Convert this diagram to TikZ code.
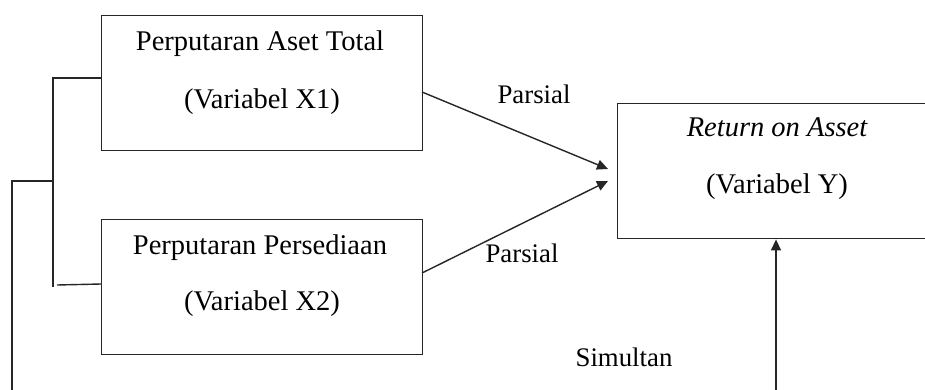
\documentclass[tikz,border=0pt]{standalone}
\usepackage{fontspec}
\setmainfont{Liberation Serif}
\usetikzlibrary{arrows.meta}
\begin{document}
\begin{tikzpicture}[x=1pt,y=-1pt,
  line width=1.4pt, draw=black!85,
  box/.style={draw=black!85, line width=1.4pt, inner sep=0pt, anchor=north west},
  lbl/.style={font=\fontsize{28.5}{34}\selectfont, inner sep=0pt},
  elbl/.style={font=\fontsize{26.8}{32}\selectfont, inner sep=0pt},
  arr/.style={-{Triangle[length=11pt,width=10pt]}}]
\useasboundingbox (0,0) rectangle (925,390);
\fill[white] (0,0) rectangle (925,390);
% boxes
\node[box, minimum width=321pt, minimum height=135pt] (x1) at (101,15) {};
\node[box, minimum width=321pt, minimum height=135pt] (x2) at (101,219) {};
\node[box, minimum width=312pt, minimum height=135pt] (y) at (617,103) {};
% texts
\node[lbl] (t1a) at (260,44) {Perputaran Aset Total};
\node[lbl] (t1b) at (262,102) {(Variabel X1)};
\node[lbl] (t2a) at (260,248) {Perputaran Persediaan};
\node[lbl] (t2b) at (262,304) {(Variabel X2)};
\node[lbl] (tya) at (777,127) {\itshape Return on Asset};
\node[lbl] (tyb) at (777,187) {(Variabel Y)};
\node[elbl] (p1) at (534,94) {Parsial};
\node[elbl] (p2) at (522,253) {Parsial};
\node[elbl] (sim) at (624,357) {Simultan};
% connector coordinates
\coordinate (a1s) at (422,92);
\coordinate (a1e) at (608,169);
\coordinate (a2s) at (422,273);
\coordinate (a2e) at (608,181);
\coordinate (b1) at (53,78);
\coordinate (b2) at (53,287);
\coordinate (b3) at (57,285);
\coordinate (b4) at (101,284);
\coordinate (m1) at (12,181);
\coordinate (m2) at (53,181);
\coordinate (m3) at (12,393);
\coordinate (m4) at (776,393);
\coordinate (m5) at (776,238);
% arrows
\draw[arr] (a1s) -- (a1e);
\draw[arr] (a2s) -- (a2e);
% bracket
\draw (x1.west |- b1) -- (b1) -- (b2);
\draw (b3) -- (b4);
\draw (m2) -- (m1) -- (m3) -- (m4);
\draw[arr] (m4) -- (y.south -| m5);
\end{tikzpicture}
\end{document}
